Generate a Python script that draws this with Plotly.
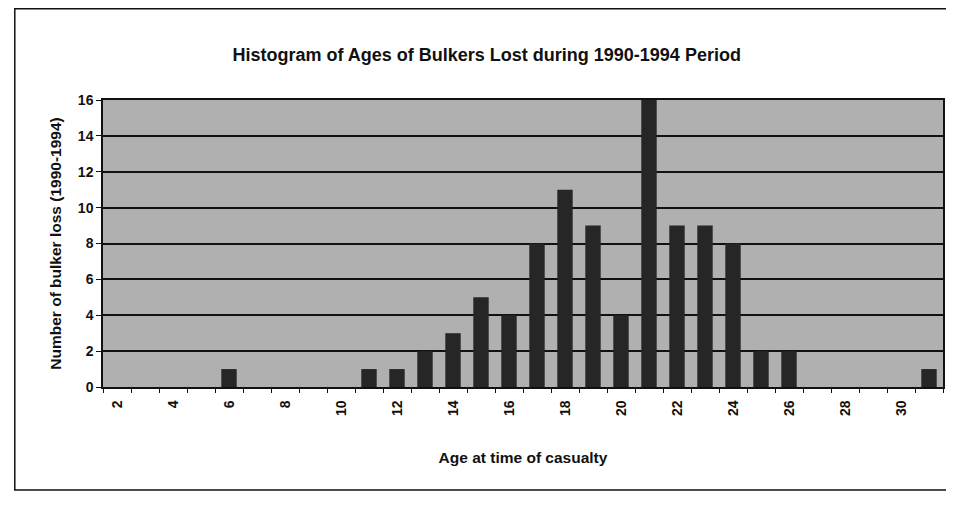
import plotly.graph_objects as go

ages = list(range(2, 32))
losses = [0, 0, 0, 0, 1, 0, 0, 0, 0, 1, 1, 2, 3, 5, 4, 8, 11, 9, 4, 16, 9, 9, 8, 2, 2, 0, 0, 0, 0, 1]
tick_ages = list(range(2, 31, 2))
y_ticks = list(range(0, 17, 2))

title_text = "Histogram of Ages of Bulkers Lost during 1990-1994 Period"
x_title = "Age at time of casualty"
y_title = "Number of bulker loss (1990-1994)"

font_family = "Liberation Sans, Arial, sans-serif"
ink = "#111111"

fig = go.Figure()
fig.add_trace(go.Bar(
    x=ages, y=losses,
    marker=dict(color="#262626", line=dict(width=0)),
    width=0.55,
))

# page body has an 8px margin, so the figure is sized/offset accordingly
fig.update_layout(
    width=946, height=498,
    margin=dict(l=95, r=11, t=92, b=119),
    paper_bgcolor="white",
    plot_bgcolor="#b0b0b0",
    showlegend=False,
    title=dict(text="<b>" + title_text + "</b>", x=0.506, xanchor="center",
               y=0.906, yanchor="middle",
               font=dict(family=font_family, size=18, color=ink)),
    font=dict(family=font_family, color=ink),
    shapes=[dict(type="rect", xref="paper", yref="paper",
                 x0=-0.105, x1=1.05, y0=-0.359, y1=1.318,
                 line=dict(color=ink, width=1.5))],
)

fig.update_xaxes(
    range=[1.5, 31.5], automargin=False,
    tickvals=tick_ages, ticktext=[str(v) for v in tick_ages],
    tickangle=-90, ticks="", ticklen=0, ticklabelstandoff=6,
    minor=dict(tickvals=[a - 0.5 for a in ages] + [ages[-1] + 0.5], ticks="outside",
               ticklen=4, tickcolor=ink, showgrid=False),
    tickfont=dict(size=14, family=font_family, color=ink, weight="bold"),
    showline=True, linecolor=ink, linewidth=1.5, mirror=True,
    showgrid=False, zeroline=False,
    title=dict(text="<b>" + x_title + "</b>", font=dict(size=15.5, family=font_family), standoff=37),
)
fig.update_yaxes(
    range=[0, 16], automargin=False,
    tickvals=y_ticks,
    ticks="outside", ticklen=5, tickcolor=ink,
    tickfont=dict(size=14, family=font_family, color=ink, weight="bold"),
    showline=True, linecolor=ink, linewidth=1.5, mirror=True,
    showgrid=True, gridcolor=ink, gridwidth=1.5,
    zeroline=False,
    title=dict(text="<b>" + y_title + "</b>", font=dict(size=15.5, family=font_family), standoff=12),
)

fig.write_html("out.html")
